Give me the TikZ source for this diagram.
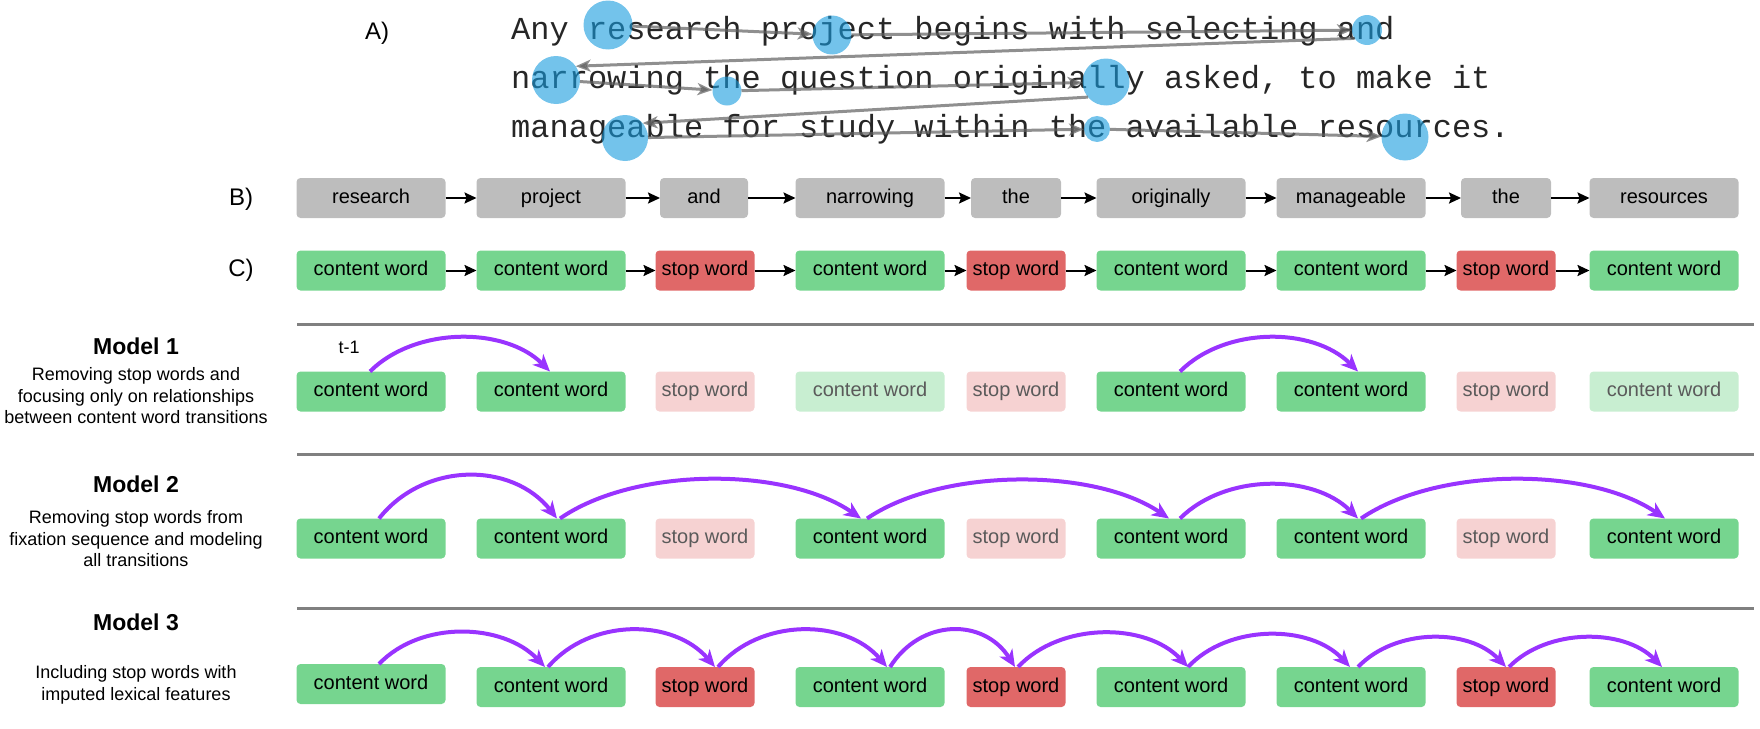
\documentclass[tikz,border=0pt]{standalone}
\usepackage{fontspec}
\setmainfont{Liberation Sans}
\newfontfamily\passagefont{Liberation Mono}
\usetikzlibrary{arrows.meta}
\definecolor{boxgray}{RGB}{189,189,189}
\definecolor{cgreen}{RGB}{118,213,143}
\definecolor{cred}{RGB}{224,104,104}
\definecolor{fgreen}{RGB}{200,238,209}
\definecolor{fred}{RGB}{246,210,210}
\definecolor{ftext}{RGB}{90,90,90}
\definecolor{arcpurple}{RGB}{153,51,255}
\definecolor{fixblue}{RGB}{22,155,222}
\definecolor{sepgray}{RGB}{128,128,128}
\definecolor{scangray}{RGB}{95,95,95}
\begin{document}
\begin{tikzpicture}[x=1pt,y=-1pt,
  wbox/.style={rectangle, rounded corners=4pt, minimum height=40pt, inner sep=0pt, outer sep=0pt, text height=14.5pt, text depth=4.2pt, font=\fontsize{20}{24}\selectfont, text=black},
  graybox/.style={wbox, fill=boxgray, minimum width=#1},
  graybox/.default=149pt,
  cont/.style={wbox, fill=cgreen, minimum width=149pt},
  stopw/.style={wbox, fill=cred, minimum width=99pt},
  fcont/.style={wbox, fill=fgreen, text=ftext, minimum width=149pt},
  fstop/.style={wbox, fill=fred, text=ftext, minimum width=99pt},
  seqarrow/.style={-{Stealth[length=12pt,width=11pt,inset=2pt]}, line width=2pt, black},
  tarc/.style={-{Stealth[length=17pt,width=15pt,inset=5pt,fill=arcpurple]}, line width=4pt, draw=arcpurple},
  scan/.style={-{Stealth[length=15pt,width=12pt,inset=4pt,fill=scangray]}, line width=3pt, draw=scangray, draw opacity=0.7, fill opacity=0.7},
  fix/.style={circle, fill=fixblue, fill opacity=0.6, inner sep=0pt, outer sep=0pt, minimum size=#1},
  seprule/.style={line width=3pt, draw=sepgray},
  lab/.style={font=\fontsize{24}{28}\selectfont},
  mtitle/.style={font=\bfseries\fontsize{23}{27}\selectfont},
  mdesc/.style={font=\fontsize{18}{21.5}\selectfont, align=center},
  ptext/.style={anchor=base west, inner sep=0pt, font=\passagefont\fontsize{32}{36}\selectfont, text=black!85}
]
\useasboundingbox (0,0) rectangle (1760,728);

% ---------- A) passage ----------
\node[lab] (labA) at (377,33) {A)};
\node[ptext] (p1) at (511,39) {Any research project begins with selecting and};
\node[ptext] (p2) at (511,88) {narrowing the question originally asked, to make it};
\node[ptext] (p3) at (511,137) {manageable for study within the available resources.};

\node[fix=49pt] (f1) at (608,25) {};
\node[fix=39pt] (f2) at (832,35) {};
\node[fix=30pt] (f3) at (1367,30) {};
\node[fix=48pt] (f4) at (556,80) {};
\node[fix=29pt] (f5) at (727,91) {};
\node[fix=47pt] (f6) at (1106,82) {};
\node[fix=46pt] (f7) at (625,138) {};
\node[fix=26pt] (f8) at (1097,129) {};
\node[fix=47pt] (f9) at (1405,137) {};

\draw[scan] (f1) -- (f2);
\draw[scan] (f2) -- (f3);
\draw[scan] (f3.214) -- (f4.35);
\draw[scan] (f4) -- (f5);
\draw[scan] (f5) -- (f6);
\draw[scan] (f6.220) -- (f7.40);
\draw[scan] (f7) -- (f8);
\draw[scan] (f8) -- (f9);

% ---------- B) ----------
\node[lab] (labB) at (241,199) {B)};
\node[graybox] (b1) at (371,198) {research};
\node[graybox] (b2) at (551,198) {project};
\node[graybox=88pt] (b3) at (704,198) {and};
\node[graybox] (b4) at (870,198) {narrowing};
\node[graybox=90pt] (b5) at (1016,198) {the};
\node[graybox] (b6) at (1171,198) {originally};
\node[graybox] (b7) at (1351,198) {manageable};
\node[graybox=90pt] (b8) at (1506,198) {the};
\node[graybox] (b9) at (1664,198) {resources};
\foreach \a/\b in {b1/b2,b2/b3,b3/b4,b4/b5,b5/b6,b6/b7,b7/b8,b8/b9}
  \draw[seqarrow] (\a.east) -- (\b.west);

% ---------- C) ----------
\node[lab] (labC) at (241,270) {C)};
\node[cont] (c1) at (371,270.5) {content word};
\node[cont] (c2) at (551,270.5) {content word};
\node[stopw] (c3) at (705,270.5) {stop word};
\node[cont] (c4) at (870,270.5) {content word};
\node[stopw] (c5) at (1016,270.5) {stop word};
\node[cont] (c6) at (1171,270.5) {content word};
\node[cont] (c7) at (1351,270.5) {content word};
\node[stopw] (c8) at (1506,270.5) {stop word};
\node[cont] (c9) at (1664,270.5) {content word};
\foreach \a/\b in {c1/c2,c2/c3,c3/c4,c4/c5,c5/c6,c6/c7,c7/c8,c8/c9}
  \draw[seqarrow] (\a.east) -- (\b.west);

% ---------- separators ----------
\coordinate (s1a) at (297,324); \coordinate (s1b) at (1754,324);
\coordinate (s2a) at (297,454); \coordinate (s2b) at (1754,454);
\coordinate (s3a) at (297,608); \coordinate (s3b) at (1754,608);
\draw[seprule] (s1a) -- (s1b);
\draw[seprule] (s2a) -- (s2b);
\draw[seprule] (s3a) -- (s3b);

% ---------- Model 1 ----------
\node[mtitle] (t1) at (136,346) {Model 1};
\node[mdesc] (d1) at (136,396) {Removing stop words and\\focusing only on relationships\\between content word transitions};
\node[font=\fontsize{18}{21}\selectfont] (tm1) at (349,347) {t-1};
\node[cont] (ma1) at (371,391.5) {content word};
\node[cont] (ma2) at (551,391.5) {content word};
\node[fstop] (ma3) at (705,391.5) {stop word};
\node[fcont] (ma4) at (870,391.5) {content word};
\node[fstop] (ma5) at (1016,391.5) {stop word};
\node[cont] (ma6) at (1171,391.5) {content word};
\node[cont] (ma7) at (1351,391.5) {content word};
\node[fstop] (ma8) at (1506,391.5) {stop word};
\node[fcont] (ma9) at (1664,391.5) {content word};
\draw[tarc] ([xshift=-1pt]ma1.north) .. controls +(45,-45) and +(-45,-45) .. ([xshift=-1pt]ma2.north);
\draw[tarc] ([xshift=9pt]ma6.north) .. controls +(45,-45) and +(-45,-45) .. ([xshift=7pt]ma7.north);

% ---------- Model 2 ----------
\node[mtitle] (t2) at (136,484) {Model 2};
\node[mdesc] (d2) at (136,539) {Removing stop words from\\fixation sequence and modeling\\all transitions};
\node[cont] (mb1) at (371,538.5) {content word};
\node[cont] (mb2) at (551,538.5) {content word};
\node[fstop] (mb3) at (705,538.5) {stop word};
\node[cont] (mb4) at (870,538.5) {content word};
\node[fstop] (mb5) at (1016,538.5) {stop word};
\node[cont] (mb6) at (1171,538.5) {content word};
\node[cont] (mb7) at (1351,538.5) {content word};
\node[fstop] (mb8) at (1506,538.5) {stop word};
\node[cont] (mb9) at (1664,538.5) {content word};
\draw[tarc] ([xshift=8pt]mb1.north) .. controls +(45,-57) and +(-45,-57) .. ([xshift=6pt]mb2.north);
\draw[tarc] ([xshift=9pt]mb2.north) .. controls +(75,-52) and +(-75,-52) .. ([xshift=-9pt]mb4.north);
\draw[tarc] ([xshift=-3pt]mb4.north) .. controls +(75,-51) and +(-75,-51) .. ([xshift=-2pt]mb6.north);
\draw[tarc] ([xshift=9pt]mb6.north) .. controls +(45,-45) and +(-45,-45) .. ([xshift=7pt]mb7.north);
\draw[tarc] ([xshift=10pt]mb7.north) .. controls +(76,-52) and +(-76,-52) .. ([xshift=1pt]mb9.north);

% ---------- Model 3 ----------
\node[mtitle] (t3) at (136,622) {Model 3};
\node[mdesc] (d3) at (136,685) {Including stop words with\\imputed lexical features};
\node[cont] (mc1) at (371,684) {content word};
\node[cont] (mc2) at (551,687) {content word};
\node[stopw] (mc3) at (705,687) {stop word};
\node[cont] (mc4) at (870,687) {content word};
\node[stopw] (mc5) at (1016,687) {stop word};
\node[cont] (mc6) at (1171,687) {content word};
\node[cont] (mc7) at (1351,687) {content word};
\node[stopw] (mc8) at (1506,687) {stop word};
\node[cont] (mc9) at (1664,687) {content word};
\draw[tarc] ([xshift=8pt]mc1.north) .. controls +(42,-44) and +(-42,-44) .. ([xshift=-6pt]mc2.north);
\draw[tarc] ([xshift=-3pt]mc2.north) .. controls +(42,-49) and +(-42,-49) .. ([xshift=10pt]mc3.north);
\draw[tarc] ([xshift=13pt]mc3.north) .. controls +(42,-49) and +(-42,-49) .. ([xshift=17pt]mc4.north);
\draw[tarc] ([xshift=20pt]mc4.north) .. controls +(31,-49) and +(-31,-49) .. ([xshift=-1pt]mc5.north);
\draw[tarc] ([xshift=2pt]mc5.north) .. controls +(42,-45) and +(-42,-45) .. ([xshift=17pt]mc6.north);
\draw[tarc] ([xshift=17pt]mc6.north) .. controls +(40,-43) and +(-40,-43) .. ([xshift=-1pt]mc7.north);
\draw[tarc] ([xshift=7pt]mc7.north) .. controls +(37,-39) and +(-37,-39) .. (mc8.north);
\draw[tarc] ([xshift=3pt]mc8.north) .. controls +(38,-39) and +(-38,-39) .. ([xshift=-2pt]mc9.north);
\end{tikzpicture}
\end{document}
